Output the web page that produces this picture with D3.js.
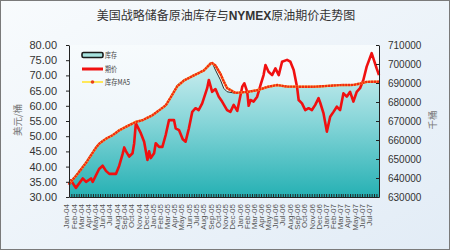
<!DOCTYPE html>
<html><head><meta charset="utf-8">
<script src="https://cdn.jsdelivr.net/npm/d3@7"></script>
<style>body{margin:0;background:#fff}svg{display:block}</style>
</head><body><svg id="c" width="450" height="250"></svg>
<script>
// ---------- DATA ----------
const priceDates = ["2004-01-01","2004-01-09","2004-01-30","2004-02-28","2004-03-13","2004-04-03","2004-04-10","2004-05-07","2004-05-22","2004-06-05","2004-06-19","2004-07-17","2004-07-31","2004-08-14","2004-08-21","2004-08-28","2004-09-11","2004-09-25","2004-10-02","2004-10-09","2004-10-30","2004-11-13","2004-11-27","2004-12-04","2004-12-11","2004-12-25","2005-01-01","2005-01-15","2005-01-29","2005-02-12","2005-02-26","2005-03-19","2005-03-26","2005-04-09","2005-04-25","2005-05-07","2005-05-21","2005-06-04","2005-06-18","2005-07-01","2005-07-16","2005-08-06","2005-08-13","2005-08-27","2005-09-10","2005-09-24","2005-10-08","2005-10-29","2005-11-12","2005-11-26","2005-12-11","2006-01-01","2006-01-10","2006-01-22","2006-01-28","2006-02-05","2006-02-18","2006-03-05","2006-03-19","2006-04-01","2006-04-09","2006-04-22","2006-05-07","2006-05-21","2006-06-04","2006-06-18","2006-07-09","2006-07-23","2006-08-06","2006-08-20","2006-08-27","2006-09-10","2006-09-24","2006-10-08","2006-10-22","2006-11-05","2006-11-19","2006-11-26","2006-12-10","2006-12-24","2007-01-07","2007-01-21","2007-02-04","2007-02-18","2007-03-04","2007-03-18","2007-04-01","2007-04-15","2007-04-29","2007-05-13","2007-05-27","2007-06-10","2007-07-01","2007-07-22","2007-08-01"];
const priceValues = [34.0,35.5,33.0,36.1,35.0,36.1,35.0,39.2,40.3,38.6,37.6,37.6,40.3,44.1,46.3,45.1,43.3,44.4,47.7,54.2,51.0,48.2,42.2,45.0,42.8,44.4,47.7,46.5,46.5,50.4,55.3,55.3,52.6,52.0,49.0,48.2,52.6,58.0,59.2,58.6,60.8,65.8,68.5,64.6,65.5,63.0,61.4,58.6,58.0,60.3,58.3,66.3,67.4,64.6,60.0,61.9,61.4,63.0,66.8,70.1,73.4,71.2,70.1,72.3,70.1,74.5,75.1,74.5,71.8,66.3,61.9,60.8,58.6,59.2,58.6,60.3,62.5,61.0,57.5,51.5,56.4,58.0,59.7,58.6,64.1,63.0,64.6,61.4,64.6,65.8,68.5,72.9,77.3,72.3,70.1];

const invDates = ["2004-01-01","2004-01-30","2004-03-13","2004-04-24","2004-05-07","2004-06-05","2004-07-03","2004-07-31","2004-09-11","2004-10-09","2004-11-06","2004-12-18","2005-01-15","2005-02-12","2005-03-05","2005-04-02","2005-04-30","2005-06-11","2005-07-23","2005-08-20","2005-08-27","2005-09-10","2005-10-01","2005-10-15","2005-10-29","2005-12-03","2006-01-22","2006-03-05","2006-04-16","2006-05-28","2006-07-09","2006-10-29","2007-02-18","2007-04-15","2007-05-13","2007-06-10","2007-08-01"];
const invValues = [637000,641600,648600,656500,658300,660900,662600,665300,667900,669600,670500,673200,675800,678400,682800,688900,691600,694200,696800,700700,700700,696800,691600,687200,685400,684600,685400,686300,688000,689000,688000,688000,689000,689000,689800,690700,690700];
const ma5Values = [637000,641000,648000,656000,658000,660700,662500,665100,667800,669500,670400,673000,675600,678200,682400,688300,691300,694000,696600,700200,700500,699200,694800,690800,687300,684800,685300,686200,687900,688900,688100,688000,688900,689000,689700,690600,690700];

const monthLabels = ["Jan-04","Feb-04","Mar-04","Apr-04","May-04","Jun-04","Jul-04","Aug-04","Sep-04","Oct-04","Nov-04","Dec-04","Jan-05","Feb-05","Mar-05","Apr-05","May-05","Jun-05","Jul-05","Aug-05","Sep-05","Oct-05","Nov-05","Dec-05","Jan-06","Feb-06","Mar-06","Apr-06","May-06","Jun-06","Jul-06","Aug-06","Sep-06","Oct-06","Nov-06","Dec-06","Jan-07","Feb-07","Mar-07","Apr-07","May-07","Jun-07","Jul-07"];
const leftTicks = [30,35,40,45,50,55,60,65,70,75,80];
const rightTicks = [630000,640000,650000,660000,670000,680000,690000,700000,710000];
const titleParts = ["美国战略储备原油库存与","NYMEX","原油期价走势图"];
const legendNames = ["库存","期价","库存MA5"];
const leftTitle = "美元/桶", rightTitle = "千桶";

// ---------- CHART ----------
const parse = d3.timeParse("%Y-%m-%d");
const svg = d3.select("#c");
const W = 450, H = 250;
const L = 69, R = 379, T = 45, B = 197;

const defs = svg.append("defs");
const bg = defs.append("linearGradient").attr("id","bg").attr("x1",0).attr("y1",0).attr("x2",1).attr("y2",1);
bg.append("stop").attr("offset","0%").attr("stop-color","#f8fbfd");
bg.append("stop").attr("offset","100%").attr("stop-color","#e2ecf6");
const pg = defs.append("linearGradient").attr("id","pg").attr("x1",0).attr("y1",0).attr("x2",0).attr("y2",1);
pg.append("stop").attr("offset","0%").attr("stop-color","#f7fbfd");
pg.append("stop").attr("offset","100%").attr("stop-color","#e8f1f8");
const ag = defs.append("linearGradient").attr("id","ag").attr("gradientUnits","userSpaceOnUse")
  .attr("x1",0).attr("y1",62).attr("x2",0).attr("y2",B);
ag.append("stop").attr("offset","0%").attr("stop-color","#cdeef0");
ag.append("stop").attr("offset","45%").attr("stop-color","#86d5d8");
ag.append("stop").attr("offset","100%").attr("stop-color","#25b0b3");

svg.append("rect").attr("x",0.5).attr("y",0.5).attr("width",W-1).attr("height",H-1)
  .attr("fill","url(#bg)").attr("stroke","#7a7a7a");
svg.append("rect").attr("x",L).attr("y",T).attr("width",R-L).attr("height",B-T).attr("fill","url(#pg)");

const x = d3.scaleTime().domain([parse("2004-01-01"), parse("2007-08-01")]).range([L, R]);
const yL = d3.scaleLinear().domain([30, 80]).range([B, T]);
const yR = d3.scaleLinear().domain([630000, 710000]).range([B, T]);

const inv = invDates.map((d,i)=>({d:parse(d), v:invValues[i], m:ma5Values[i]}));
const price = priceDates.map((d,i)=>({d:parse(d), v:priceValues[i]}));

// area
svg.append("path").datum(inv)
  .attr("d", d3.area().x(d=>x(d.d)).y0(B).y1(d=>yR(d.v)))
  .attr("fill","url(#ag)");
svg.append("path").datum(inv)
  .attr("d", d3.line().x(d=>x(d.d)).y(d=>yR(d.v)))
  .attr("fill","none").attr("stroke","#2a2a2a").attr("stroke-width",1);

// price line
svg.append("path").datum(price)
  .attr("d", d3.line().x(d=>x(d.d)).y(d=>yL(d.v)))
  .attr("fill","none").attr("stroke","#f01010").attr("stroke-width",2.6).attr("stroke-linejoin","round");

// MA5
const maLine = d3.line().x(d=>x(d.d)).y(d=>yR(d.m));
svg.append("path").datum(inv).attr("d", maLine)
  .attr("fill","none").attr("stroke","#ffc040").attr("stroke-width",2.4);
svg.append("path").datum(inv).attr("d", maLine)
  .attr("fill","none").attr("stroke","#f02a12").attr("stroke-width",2.4).attr("stroke-dasharray","2.4,0.5");

// axes
const fontLat = "'Liberation Sans', Arial, sans-serif";
const ax = svg.append("g").attr("transform",`translate(${L},0)`)
  .call(d3.axisLeft(yL).tickValues(leftTicks).tickFormat(d3.format(".2f")).tickSize(3).tickPadding(9).tickSizeOuter(0));
ax.selectAll("text").attr("font-family",fontLat).attr("font-size",11).attr("fill","#333");
ax.selectAll("line,path").attr("stroke","#222");

const ar = svg.append("g").attr("transform",`translate(${R},0)`)
  .call(d3.axisRight(yR).tickValues(rightTicks).tickFormat(d3.format("d")).tickSize(-3).tickPadding(9).tickSizeOuter(0));
ar.selectAll("text").attr("font-family",fontLat).attr("font-size",10).attr("fill","#333");
ar.selectAll("line,path").attr("stroke","#222");

const ab = svg.append("g").attr("transform",`translate(0,${B})`)
  .call(d3.axisBottom(x).ticks(d3.timeDay.filter(d=>[1,11,21].includes(d.getDate()))).tickSize(-3).tickSizeOuter(0).tickFormat(""));
ab.selectAll("line,path").attr("stroke","#222");

// month labels
const monthDates = d3.timeMonth.range(parse("2004-01-01"), parse("2007-07-02"));
svg.append("g").selectAll("text").data(monthLabels).join("text")
  .attr("transform",(d,i)=>`translate(${x(monthDates[i])-2.5},204) rotate(-90)`)
  .attr("text-anchor","end").attr("dy","0.35em")
  .attr("font-family",fontLat).attr("font-size",8).attr("fill","#555")
  .text(d=>d);

// title
const t = svg.append("text").attr("x",226).attr("y",20).attr("text-anchor","middle")
  .attr("font-family","'Noto Sans CJK SC', sans-serif").attr("font-size",12).attr("fill","#333");
t.selectAll("tspan").data(titleParts).join("tspan")
  .attr("font-weight",(d,i)=>i===1?"bold":"normal")
  .attr("font-family",(d,i)=>i===1?fontLat:null)
  .text(d=>d);

// axis titles
svg.append("text").attr("transform","translate(18,120) rotate(-90)").attr("text-anchor","middle")
  .attr("dy","0.35em").attr("font-family","'Noto Sans CJK SC', sans-serif").attr("font-size",9.5).attr("fill","#777").text(leftTitle);
svg.append("text").attr("transform","translate(433,120) rotate(-90)").attr("text-anchor","middle")
  .attr("dy","0.35em").attr("font-family","'Noto Sans CJK SC', sans-serif").attr("font-size",9.5).attr("fill","#777").text(rightTitle);

// legend
const lg = svg.append("g");
lg.append("rect").attr("x",82).attr("y",52.5).attr("width",21).attr("height",5).attr("rx",1.5)
  .attr("fill","#a6e2de").attr("stroke","#1a1a1a").attr("stroke-width",1.6);
lg.append("line").attr("x1",82).attr("x2",103).attr("y1",69).attr("y2",69).attr("stroke","#f01010").attr("stroke-width",3);
lg.append("line").attr("x1",82).attr("x2",103).attr("y1",82).attr("y2",82).attr("stroke","#ffe85a").attr("stroke-width",2);
lg.append("circle").attr("cx",92.5).attr("cy",82).attr("r",1.8).attr("fill","#e8401a");
const lw = [12,12,25];
lg.selectAll("text").data(legendNames).join("text")
  .attr("x",105).attr("y",(d,i)=>55.5+i*13.3).attr("dy","0.35em")
  .attr("font-family","'Noto Sans CJK SC', sans-serif").attr("font-size",8).attr("fill","#444")
  .attr("textLength",(d,i)=>lw[i]).attr("lengthAdjust","spacingAndGlyphs")
  .text(d=>d);
</script></body></html>
